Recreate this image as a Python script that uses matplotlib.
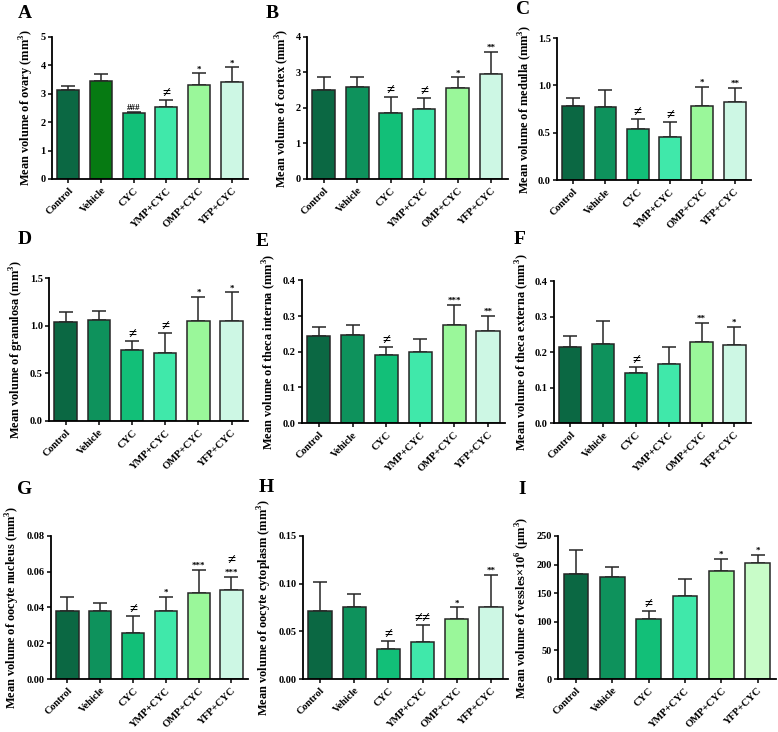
import matplotlib
matplotlib.use("Agg")
import matplotlib.pyplot as plt
import numpy as np

plt.rcParams["font.family"] = ["Liberation Serif", "DejaVu Serif"]
plt.rcParams["font.weight"] = "bold"
plt.rcParams["mathtext.fontset"] = "custom"
plt.rcParams["mathtext.rm"] = "Liberation Serif:bold"
plt.rcParams["mathtext.bf"] = "Liberation Serif:bold"

groups = ["Control", "Vehicle", "CYC", "YMP+CYC", "OMP+CYC", "YFP+CYC"]

# mean values and upper error (sd) per panel
ovary = [3.12, 3.45, 2.32, 2.52, 3.32, 3.42]
ovary_err = [0.15, 0.25, 0.03, 0.26, 0.40, 0.51]
cortex = [2.50, 2.58, 1.86, 1.96, 2.56, 2.95]
cortex_err = [0.36, 0.28, 0.46, 0.31, 0.30, 0.62]
medulla = [0.78, 0.77, 0.54, 0.46, 0.78, 0.82]
medulla_err = [0.09, 0.18, 0.11, 0.15, 0.20, 0.15]
granulosa = [1.04, 1.06, 0.74, 0.71, 1.05, 1.05]
granulosa_err = [0.10, 0.09, 0.10, 0.21, 0.25, 0.30]
theca_int = [0.243, 0.248, 0.190, 0.199, 0.276, 0.259]
theca_int_err = [0.027, 0.028, 0.022, 0.037, 0.056, 0.041]
theca_ext = [0.215, 0.222, 0.142, 0.167, 0.228, 0.221]
theca_ext_err = [0.030, 0.065, 0.016, 0.046, 0.054, 0.049]
nucleus = [0.038, 0.038, 0.026, 0.038, 0.048, 0.050]
nucleus_err = [0.008, 0.0045, 0.009, 0.008, 0.013, 0.007]
cytoplasm = [0.071, 0.075, 0.031, 0.039, 0.063, 0.075]
cytoplasm_err = [0.031, 0.014, 0.009, 0.018, 0.012, 0.034]
vessels = [183, 179, 105, 145, 188, 203]
vessels_err = [43, 16, 13, 30, 22, 14]

# significance marks; "≠|***" means ≠ stacked above ***
marks_a = ["", "", "###", "≠", "*", "*"]
marks_b = ["", "", "≠", "≠", "*", "**"]
marks_c = ["", "", "≠", "≠", "*", "**"]
marks_d = ["", "", "≠", "≠", "*", "*"]
marks_e = ["", "", "≠", "", "***", "**"]
marks_f = ["", "", "≠", "", "**", "*"]
marks_g = ["", "", "≠", "*", "***", "≠|***"]
marks_h = ["", "", "≠", "≠≠", "*", "**"]
marks_i = ["", "", "≠", "", "*", "*"]

colors = ["#0b6843", "#0e925c", "#12bf78", "#40e8aa", "#9af79a", "#cdf7e4"]
colors_a = ["#0b6843", "#067a12", "#12bf78", "#40e8aa", "#9af79a", "#cdf7e4"]
colors_i = ["#0b6843", "#0e925c", "#12bf78", "#40e8aa", "#9af79a", "#c8fcc8"]

panels = [
    ("A", ovary, ovary_err, marks_a, colors_a, "Mean volume of ovary (mm$^3$)", 5, 1, "%d",
     [0.0668, 0.7555, 0.252, 0.194], (25, 13)),
    ("B", cortex, cortex_err, marks_b, colors, "Mean volume of cortex (mm$^3$)", 4, 1, "%d",
     [0.3946, 0.7555, 0.258, 0.194], (272, 13)),
    ("C", medulla, medulla_err, marks_c, colors, "Mean volume of medulla (mm$^3$)", 1.5, 0.5, "%.1f",
     [0.716, 0.754, 0.249, 0.194], (523, 10)),
    ("D", granulosa, granulosa_err, marks_d, colors, "Mean volume of granulosa (mm$^3$)", 1.5, 0.5, "%.1f",
     [0.063, 0.425, 0.256, 0.195], (25, 240)),
    ("E", theca_int, theca_int_err, marks_e, colors, "Mean volume of theca interna (mm$^3$)", 0.4, 0.1, "%.1f",
     [0.388, 0.422, 0.261, 0.195], (262, 241)),
    ("F", theca_ext, theca_ext_err, marks_f, colors, "Mean volume of theca externa (mm$^3$)", 0.4, 0.1, "%.1f",
     [0.712, 0.422, 0.253, 0.194], (520, 239)),
    ("G", nucleus, nucleus_err, marks_g, colors, "Mean volume of oocyte nucleus (mm$^3$)", 0.08, 0.02, "%.2f",
     [0.0656, 0.0724, 0.253, 0.1954], (25, 489)),
    ("H", cytoplasm, cytoplasm_err, marks_h, colors, "Mean volume of oocyte cytoplasm (mm$^3$)", 0.15, 0.05, "%.2f",
     [0.3895, 0.0724, 0.2635, 0.1954], (266, 487)),
    ("I", vessels, vessels_err, marks_i, colors_i, "Mean volume of vessles×10$^6$ (μm$^3$)", 250, 50, "%d",
     [0.717, 0.0724, 0.28, 0.1954], (522, 489)),
]

W, H = 778, 732
fig = plt.figure(figsize=(W / 100, H / 100), dpi=100)


def put_mark(ax, xi, top, text, dy):
    fs = 10.5 if "≠" in text else 6.5
    ax.annotate(text, (xi, top), xytext=(0, dy), textcoords="offset points",
                ha="center", va="bottom", fontsize=fs, fontweight="bold")


for letter, vals, errs, marks, cols, ylabel, ymax, step, fmt, rect, lpos in panels:
    ax = fig.add_axes(rect)
    x = np.arange(len(groups))
    ax.bar(x, vals, width=0.68, color=cols, edgecolor="#262626", linewidth=1.1, zorder=2)
    ax.errorbar(x, vals, yerr=[np.zeros(len(vals)), errs], fmt="none", ecolor="#262626",
                elinewidth=1.1, capsize=5, capthick=1.1, zorder=1)
    for xi, v, e, m in zip(x, vals, errs, marks):
        if not m:
            continue
        parts = m.split("|")
        if len(parts) == 2:
            put_mark(ax, xi, v + e, parts[1], 0.5)
            put_mark(ax, xi, v + e, parts[0], 7.0)
        else:
            put_mark(ax, xi, v + e, m, 0)
    ax.set_xlim(-0.5, 5.5)
    ax.set_ylim(0, ymax)
    ax.set_yticks(np.arange(0, ymax + step / 2, step))
    ax.yaxis.set_major_formatter(matplotlib.ticker.FormatStrFormatter(fmt))
    ax.set_xticks(x)
    ax.set_xticklabels(groups, rotation=45, ha="right", rotation_mode="anchor", fontsize=7.5,
                       fontweight="bold")
    ax.tick_params(axis="y", labelsize=7.5, length=3, width=1.1, pad=1.5)
    ax.tick_params(axis="x", length=3, width=1.1, pad=2)
    for s in ("top", "right"):
        ax.spines[s].set_visible(False)
    for s in ("left", "bottom"):
        ax.spines[s].set_linewidth(1.3)
    ax.set_ylabel(ylabel, fontsize=8.9, fontweight="bold", labelpad=3)
    fig.text(lpos[0] / W, 1 - lpos[1] / H, letter, fontsize=14, fontweight="bold",
             ha="center", va="center")

fig.savefig("out.png", dpi=100)
